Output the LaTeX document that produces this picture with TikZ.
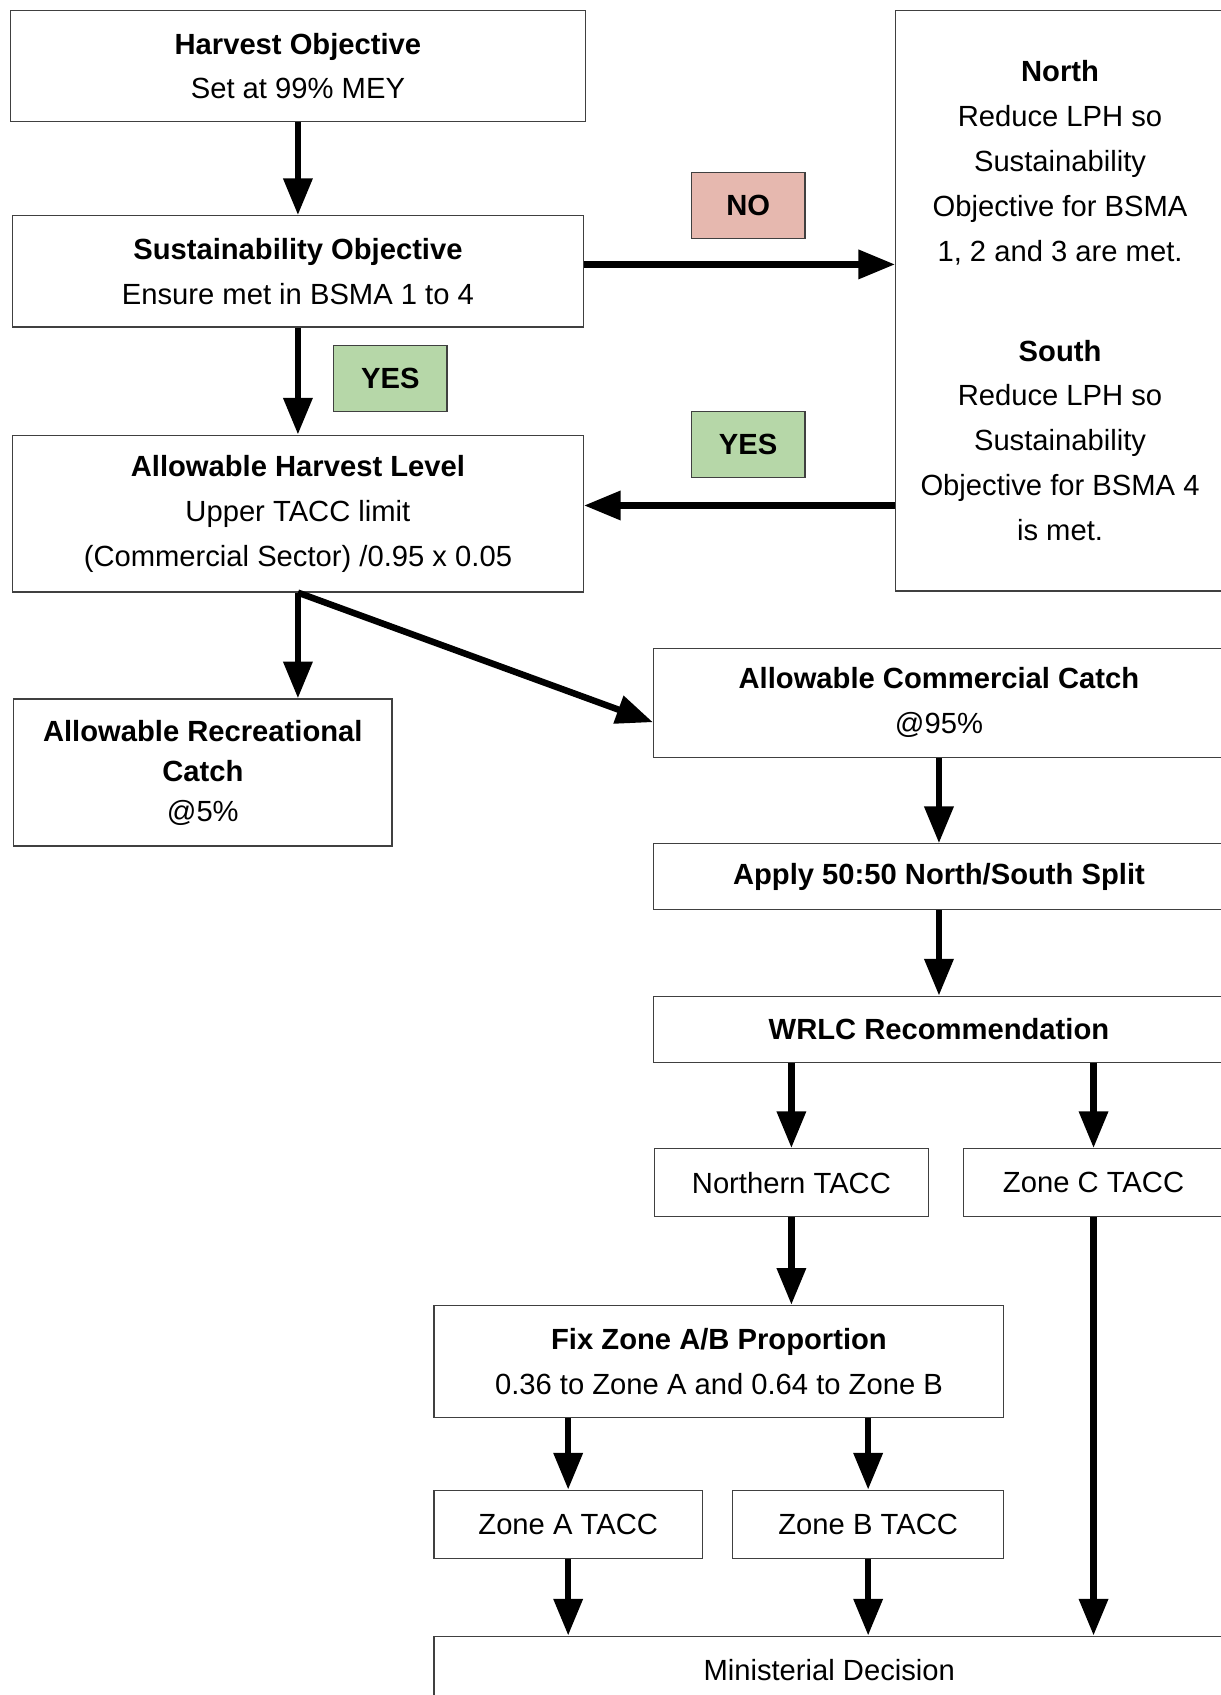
\documentclass[tikz,border=0pt]{standalone}
\usepackage{fontspec}
\setmainfont{Liberation Sans}
\usetikzlibrary{arrows.meta}
\newcommand{\px}{0.5pt}
\definecolor{nored}{HTML}{E6B8AF}
\definecolor{yesgreen}{HTML}{B6D7A8}

\begin{document}
\begin{tikzpicture}[box/.style={draw=black!75, line width=0.6pt, rectangle, anchor=north west, inner sep=0pt, align=center, font=\fontsize{13.5}{20.75}\selectfont},
    tag/.style={box, fill=#1, minimum width=105*\px, minimum height=61*\px, font=\fontsize{13.5}{20.5}\selectfont\bfseries},
    arr/.style={line width=3pt, -{Triangle[length=17pt,width=13pt]}}]
    \useasboundingbox[fill=white] (0,0) rectangle (1129*\px,-1568*\px);

    % Objectives
    \node[box, minimum width=532*\px, minimum height=103*\px] (harvest) at (9*\px,-9*\px) {\textbf{Harvest Objective}\\Set at 99\% MEY};
    \node[box, minimum width=528*\px, minimum height=103*\px] (sust) at (11*\px,-199*\px) {\textbf{Sustainability Objective}\\Ensure met in BSMA 1 to 4};
    \node[box, minimum width=528*\px, minimum height=145*\px] (ahl) at (11*\px,-402*\px) {\textbf{Allowable Harvest Level}\\Upper TACC limit\\(Commercial Sector) /0.95 x 0.05};
    \node[box, minimum width=304*\px, minimum height=537*\px] (zones) at (828*\px,-9*\px) {\textbf{North}\\Reduce LPH so\\Sustainability\\Objective for BSMA\\1, 2 and 3 are met.\\[25.5pt]\textbf{South}\\Reduce LPH so\\Sustainability\\Objective for BSMA 4\\is met.};

    \node[tag=nored] (no) at (639*\px,-159*\px) {NO};
    \node[tag=yesgreen] (yes-left) at (308*\px,-319*\px) {YES};
    \node[tag=yesgreen] (yes-right) at (639*\px,-380*\px) {YES};

    % Catch split
    \node[box, minimum width=350*\px, minimum height=136*\px, font=\fontsize{13.5}{18.5}\selectfont] (rec) at (12*\px,-646*\px) {\textbf{Allowable Recreational}\\\textbf{Catch}\\@5\%};
    \node[box, minimum width=528*\px, minimum height=101*\px] (comm) at (604*\px,-599*\px) {\textbf{Allowable Commercial Catch}\\@95\%};
    \node[box, minimum width=528*\px, minimum height=61*\px] (split) at (604*\px,-780*\px) {\textbf{Apply 50:50 North/South Split}};
    \node[box, minimum width=528*\px, minimum height=61*\px] (wrlc) at (604*\px,-921*\px) {\textbf{WRLC Recommendation}};

    % TACCs
    \node[box, minimum width=253*\px, minimum height=63*\px] (northern) at (605*\px,-1062*\px) {Northern TACC};
    \node[box, minimum width=240*\px, minimum height=63*\px] (zonec) at (891*\px,-1062*\px) {Zone C TACC};
    \node[box, minimum width=527*\px, minimum height=104*\px] (fix) at (401*\px,-1207*\px) {\textbf{Fix Zone A/B Proportion}\\0.36 to Zone A and 0.64 to Zone B};
    \node[box, minimum width=248*\px, minimum height=63*\px] (zonea) at (401*\px,-1378*\px) {Zone A TACC};
    \node[box, minimum width=251*\px, minimum height=63*\px] (zoneb) at (677*\px,-1378*\px) {Zone B TACC};
    \node[box, minimum width=731*\px, minimum height=62*\px] (minister) at (401*\px,-1513*\px) {Ministerial Decision};

    % Arrows
    \draw[arr] (harvest.south) -- (sust.north);
    \draw[arr] ([yshift=6.5*\px]sust.east) -- ([yshift=6.5*\px]sust.east -| zones.west);
    \draw[arr] (sust.south) -- (ahl.north);
    \draw[arr] ([yshift=7.5*\px]zones.west |- ahl.east) -- ([yshift=7.5*\px]ahl.east);
    \draw[arr] (ahl.south) -- (ahl.south |- rec.north);
    \draw[arr] (ahl.south) -- ([yshift=-18*\px]comm.west);
    \draw[arr] (comm.south) -- (split.north);
    \draw[arr] (split.south) -- (wrlc.north);
    \draw[arr] (northern.north |- wrlc.south) -- (northern.north);
    \draw[arr] (zonec.north |- wrlc.south) -- (zonec.north);
    \draw[arr] (northern.south) -- (northern.south |- fix.north);
    \draw[arr] (zonec.south) -- (zonec.south |- minister.north);
    \draw[arr] (zonea.north |- fix.south) -- (zonea.north);
    \draw[arr] (zoneb.north |- fix.south) -- (zoneb.north);
    \draw[arr] (zonea.south) -- (zonea.south |- minister.north);
    \draw[arr] (zoneb.south) -- (zoneb.south |- minister.north);

\end{tikzpicture}
\end{document}
